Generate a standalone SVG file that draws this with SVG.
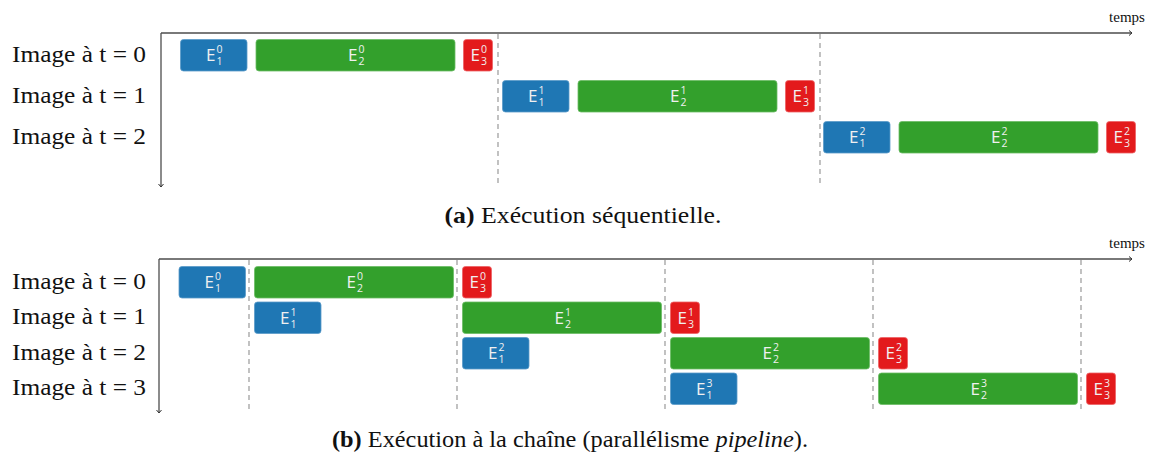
<svg xmlns="http://www.w3.org/2000/svg" width="1152" height="454" viewBox="0 0 1152 454">
<style>
.axis{stroke:#4d4d4d;stroke-width:1.3;fill:none}
.dash{stroke:#999;stroke-width:1.2;stroke-dasharray:5 4;fill:none}
.b1{fill:#1f77b4;stroke:#5a9bc9;stroke-width:0.8}
.b2{fill:#33a02c;stroke:#6cbc66;stroke-width:0.8}
.b3{fill:#e31a1c;stroke:#ee6264;stroke-width:0.8}
.E{font-family:"Open Sans","DejaVu Sans",sans-serif;font-size:17px;fill:#f0f0f0;text-anchor:end}
.s{font-family:"Open Sans","DejaVu Sans",sans-serif;font-size:10.5px;fill:#f0f0f0}
.row{font-family:"Liberation Serif","DejaVu Serif",serif;font-size:22.5px;fill:#111;text-anchor:end}
.cap{font-family:"Liberation Serif","DejaVu Serif",serif;font-size:22.5px;fill:#111;text-anchor:middle}
.temps{font-family:"Liberation Serif","DejaVu Serif",serif;font-size:15px;fill:#111;text-anchor:middle}
</style>
<defs>
<marker id="arr" markerWidth="8" markerHeight="8" refX="6" refY="4" orient="auto" markerUnits="userSpaceOnUse">
<path d="M3,1.5 L6,4 L3,6.5" fill="none" stroke="#333" stroke-width="1"/>
</marker>
</defs>

<!-- ===== (a) ===== -->
<g id="axes-a">
<line class="axis" x1="161" y1="33" x2="1132" y2="33" marker-end="url(#arr)"/>
<line class="axis" x1="161" y1="33" x2="161" y2="187" marker-end="url(#arr)"/>
<text class="temps" x="1127" y="22">temps</text>
</g>
<g id="labels-a">
<text class="row" x="146" y="62" textLength="134" lengthAdjust="spacingAndGlyphs">Image à t = 0</text>
<text class="row" x="146" y="103" textLength="134" lengthAdjust="spacingAndGlyphs">Image à t = 1</text>
<text class="row" x="146" y="144" textLength="134" lengthAdjust="spacingAndGlyphs">Image à t = 2</text>
</g>
<g id="connectors-a">
<line class="dash" x1="498" y1="34" x2="498" y2="186"/>
<line class="dash" x1="820" y1="34" x2="820" y2="186"/>
</g>
<g id="a-E1-0"><rect class="b1" x="180.5" y="39.5" width="66.5" height="31.5" rx="3"/><text class="E" x="215.5" y="61">E</text><text class="s" x="216.5" y="53">0</text><text class="s" x="216.5" y="65">1</text></g>
<g id="a-E2-0"><rect class="b2" x="256" y="39.5" width="199" height="31.5" rx="3"/><text class="E" x="357.5" y="61">E</text><text class="s" x="358.5" y="53">0</text><text class="s" x="358.5" y="65">2</text></g>
<g id="a-E3-0"><rect class="b3" x="463.5" y="39.5" width="29" height="31.5" rx="3"/><text class="E" x="480" y="61">E</text><text class="s" x="481" y="53">0</text><text class="s" x="481" y="65">3</text></g>

<g id="a-E1-1"><rect class="b1" x="502.5" y="80.5" width="66.5" height="31.5" rx="3"/><text class="E" x="537.5" y="102">E</text><text class="s" x="538.5" y="94">1</text><text class="s" x="538.5" y="106">1</text></g>
<g id="a-E2-1"><rect class="b2" x="578" y="80.5" width="199" height="31.5" rx="3"/><text class="E" x="679.5" y="102">E</text><text class="s" x="680.5" y="94">1</text><text class="s" x="680.5" y="106">2</text></g>
<g id="a-E3-1"><rect class="b3" x="785.5" y="80.5" width="29" height="31.5" rx="3"/><text class="E" x="802" y="102">E</text><text class="s" x="803" y="94">1</text><text class="s" x="803" y="106">3</text></g>

<g id="a-E1-2"><rect class="b1" x="823.5" y="121.5" width="66.5" height="31.5" rx="3"/><text class="E" x="858.5" y="143">E</text><text class="s" x="859.5" y="135">2</text><text class="s" x="859.5" y="147">1</text></g>
<g id="a-E2-2"><rect class="b2" x="899" y="121.5" width="199" height="31.5" rx="3"/><text class="E" x="1000.5" y="143">E</text><text class="s" x="1001.5" y="135">2</text><text class="s" x="1001.5" y="147">2</text></g>
<g id="a-E3-2"><rect class="b3" x="1106.5" y="121.5" width="29" height="31.5" rx="3"/><text class="E" x="1123" y="143">E</text><text class="s" x="1124" y="135">2</text><text class="s" x="1124" y="147">3</text></g>

<text class="cap" x="583" y="223" textLength="277" lengthAdjust="spacingAndGlyphs"><tspan font-weight="bold">(a)</tspan> Exécution séquentielle.</text>

<!-- ===== (b) ===== -->
<g id="axes-b">
<line class="axis" x1="159" y1="259" x2="1132" y2="259" marker-end="url(#arr)"/>
<line class="axis" x1="159" y1="259" x2="159" y2="413" marker-end="url(#arr)"/>
<text class="temps" x="1127" y="248">temps</text>
</g>
<g id="labels-b">
<text class="row" x="146" y="289" textLength="134" lengthAdjust="spacingAndGlyphs">Image à t = 0</text>
<text class="row" x="146" y="324" textLength="134" lengthAdjust="spacingAndGlyphs">Image à t = 1</text>
<text class="row" x="146" y="360" textLength="134" lengthAdjust="spacingAndGlyphs">Image à t = 2</text>
<text class="row" x="146" y="395" textLength="134" lengthAdjust="spacingAndGlyphs">Image à t = 3</text>
</g>
<g id="connectors-b">
<line class="dash" x1="249" y1="260" x2="249" y2="412"/>
<line class="dash" x1="457" y1="260" x2="457" y2="412"/>
<line class="dash" x1="665" y1="260" x2="665" y2="412"/>
<line class="dash" x1="873" y1="260" x2="873" y2="412"/>
<line class="dash" x1="1081" y1="260" x2="1081" y2="412"/>
</g>

<g id="b-E1-0"><rect class="b1" x="179" y="266.5" width="66.5" height="31.5" rx="3"/><text class="E" x="214" y="288">E</text><text class="s" x="215" y="280">0</text><text class="s" x="215" y="292">1</text></g>
<g id="b-E2-0"><rect class="b2" x="254.5" y="266.5" width="199" height="31.5" rx="3"/><text class="E" x="356" y="288">E</text><text class="s" x="357" y="280">0</text><text class="s" x="357" y="292">2</text></g>
<g id="b-E3-0"><rect class="b3" x="462.5" y="266.5" width="29" height="31.5" rx="3"/><text class="E" x="479" y="288">E</text><text class="s" x="480" y="280">0</text><text class="s" x="480" y="292">3</text></g>

<g id="b-E1-1"><rect class="b1" x="254.5" y="302" width="66.5" height="31.5" rx="3"/><text class="E" x="289.5" y="323.5">E</text><text class="s" x="290.5" y="315.5">1</text><text class="s" x="290.5" y="327.5">1</text></g>
<g id="b-E2-1"><rect class="b2" x="462.5" y="302" width="199" height="31.5" rx="3"/><text class="E" x="564" y="323.5">E</text><text class="s" x="565" y="315.5">1</text><text class="s" x="565" y="327.5">2</text></g>
<g id="b-E3-1"><rect class="b3" x="670.5" y="302" width="29" height="31.5" rx="3"/><text class="E" x="687" y="323.5">E</text><text class="s" x="688" y="315.5">1</text><text class="s" x="688" y="327.5">3</text></g>

<g id="b-E1-2"><rect class="b1" x="462.5" y="337.5" width="66.5" height="31.5" rx="3"/><text class="E" x="497.5" y="359">E</text><text class="s" x="498.5" y="351">2</text><text class="s" x="498.5" y="363">1</text></g>
<g id="b-E2-2"><rect class="b2" x="670.5" y="337.5" width="199" height="31.5" rx="3"/><text class="E" x="772" y="359">E</text><text class="s" x="773" y="351">2</text><text class="s" x="773" y="363">2</text></g>
<g id="b-E3-2"><rect class="b3" x="878.5" y="337.5" width="29" height="31.5" rx="3"/><text class="E" x="895" y="359">E</text><text class="s" x="896" y="351">2</text><text class="s" x="896" y="363">3</text></g>

<g id="b-E1-3"><rect class="b1" x="670.5" y="373" width="66.5" height="31.5" rx="3"/><text class="E" x="705.5" y="394.5">E</text><text class="s" x="706.5" y="386.5">3</text><text class="s" x="706.5" y="398.5">1</text></g>
<g id="b-E2-3"><rect class="b2" x="878.5" y="373" width="199" height="31.5" rx="3"/><text class="E" x="980" y="394.5">E</text><text class="s" x="981" y="386.5">3</text><text class="s" x="981" y="398.5">2</text></g>
<g id="b-E3-3"><rect class="b3" x="1086.5" y="373" width="29" height="31.5" rx="3"/><text class="E" x="1103" y="394.5">E</text><text class="s" x="1104" y="386.5">3</text><text class="s" x="1104" y="398.5">3</text></g>

<text class="cap" x="570" y="447" textLength="476" lengthAdjust="spacingAndGlyphs"><tspan font-weight="bold">(b)</tspan> Exécution à la chaîne (parallélisme <tspan font-style="italic">pipeline</tspan>).</text>
</svg>
